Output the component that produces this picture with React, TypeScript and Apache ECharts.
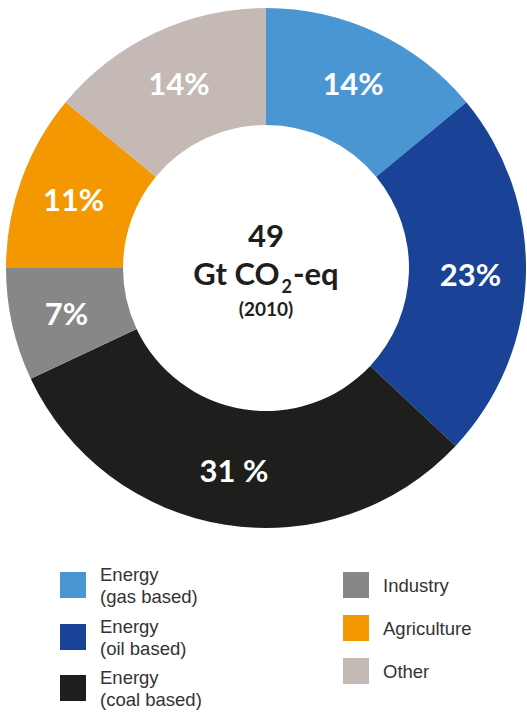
import React, { useEffect, useRef } from "react";
import * as echarts from "echarts";

const categories = [
  "Energy\n(gas based)",
  "Energy\n(oil based)",
  "Energy\n(coal based)",
  "Industry",
  "Agriculture",
  "Other",
];
const values = [14, 23, 31, 7, 11, 14];
const sliceLabels = ["14%", "23%", "31 %", "7%", "11%", "14%"];
const colors = ["#4a96d2", "#1a4297", "#1e1e1c", "#878787", "#f39800", "#c4b9b4"];
const centerTotal = "49";
const centerYear = "(2010)";

// legend placement: [left, top] of each legend item box
const legendPos: [number, number][] = [
  [60, 554],
  [60, 606],
  [60, 657],
  [343, 572],
  [343, 615],
  [343, 658],
];

export default function App() {
  const ref = useRef<HTMLDivElement>(null);
  useEffect(() => {
    document.body.style.margin = "0";
    const chart = echarts.init(ref.current!, null, { renderer: "svg" });
    const labelFont = "Lato, 'Open Sans', sans-serif";
    chart.setOption({
      animation: false,
      backgroundColor: "#ffffff",
      color: colors,
      legend: categories.map((name, i) => {
        const twoLine = name.includes("\n");
        return {
          data: [name],
          left: legendPos[i][0],
          top: legendPos[i][1],
          padding: 0,
          orient: "vertical",
          icon: "rect",
          itemWidth: 26,
          itemHeight: 26,
          selectedMode: false,
          textStyle: {
            color: "#333333",
            fontSize: 18.5,
            lineHeight: 22,
            fontFamily: "'Liberation Sans', Arial, sans-serif",
            padding: twoLine ? [18, 0, 0, 9] : [0, 0, 0, 9],
          },
        };
      }),
      series: [
        {
          type: "pie",
          center: [266, 268],
          radius: [143, 260],
          startAngle: 90,
          clockwise: true,
          avoidLabelOverlap: false,
          label: {
            show: true,
            position: "inside",
            color: "#ffffff",
            fontSize: 31,
            fontWeight: "bold",
            fontFamily: labelFont,
            formatter: (p: any) => sliceLabels[p.dataIndex],
          },
          labelLine: { show: false },
          emphasis: { disabled: true },
          itemStyle: { borderWidth: 0 },
          data: categories.map((name, i) => ({
            name,
            value: values[i],
            itemStyle: { color: colors[i] },
          })),
        },
      ],
      graphic: [
        {
          type: "text",
          x: 266,
          y: 235,
          style: {
            text: centerTotal,
            textAlign: "center",
            textVerticalAlign: "middle",
            fontSize: 31,
            fontWeight: "bold",
            fontFamily: labelFont,
            fill: "#1e1e1c",
          },
        },
        {
          type: "text",
          x: 266,
          y: 273,
          style: {
            text: "{a|Gt CO}{s|2}{a|-eq}",
            textAlign: "center",
            textVerticalAlign: "middle",
            fill: "#1e1e1c",
            rich: {
              a: {
                fontSize: 31,
                fontWeight: "bold",
                fontFamily: labelFont,
                fill: "#1e1e1c",
              },
              s: {
                fontSize: 18,
                fontWeight: "bold",
                fontFamily: labelFont,
                fill: "#1e1e1c",
                padding: [26, 1, 0, 2],
              },
            },
          },
        },
        {
          type: "text",
          x: 266,
          y: 308,
          style: {
            text: centerYear,
            textAlign: "center",
            textVerticalAlign: "middle",
            fontSize: 19,
            fontWeight: "bold",
            fontFamily: labelFont,
            fill: "#1e1e1c",
          },
        },
      ],
    });
    return () => chart.dispose();
  }, []);
  return <div ref={ref} style={{ width: 527, height: 716 }} />;
}
